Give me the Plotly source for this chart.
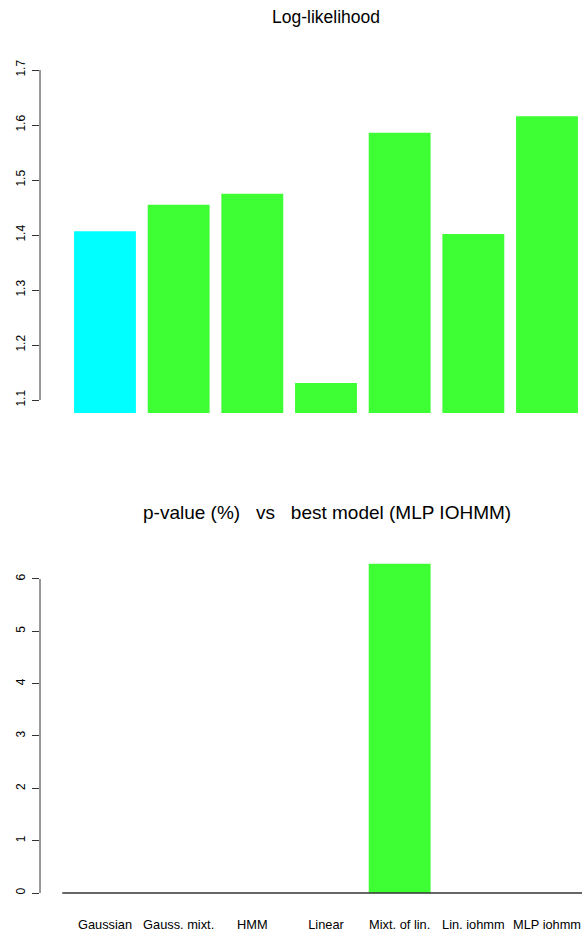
import plotly.graph_objects as go

categories = ["Gaussian", "Gauss. mixt.", "HMM", "Linear", "Mixt. of lin.", "Lin. iohmm", "MLP iohmm"]
loglik = [1.407, 1.455, 1.475, 1.131, 1.586, 1.402, 1.616]
loglik_colors = ["#00FFFF", "#3DFF33", "#3DFF33", "#3DFF33", "#3DFF33", "#3DFF33", "#3DFF33"]
pvalue = [0, 0, 0, 0, 6.29, 0, 0]
pvalue_color = "#3DFF33"
top_ticks = [1.1, 1.2, 1.3, 1.4, 1.5, 1.6, 1.7]
bottom_ticks = [0, 1, 2, 3, 4, 5, 6]
title_top = "Log-likelihood"
title_bottom = "p-value (%)\u00a0\u00a0\u00a0vs\u00a0\u00a0\u00a0best model (MLP IOHMM)"

W, H = 582, 939
FONT = "Liberation Sans, Arial, Helvetica, sans-serif"
xs = list(range(len(categories)))

L = 40  # left edge of plot area (px)

def py(p):
    return 1 - p / H

def px(p):
    return (p - L) / (W - L)

fig = go.Figure()
fig.add_trace(go.Bar(x=xs, y=loglik, marker=dict(color=loglik_colors, line=dict(width=0)),
                     xaxis="x", yaxis="y", showlegend=False))
fig.add_trace(go.Bar(x=xs, y=pvalue, marker=dict(color=pvalue_color, line=dict(width=0)),
                     xaxis="x2", yaxis="y2", showlegend=False))

xr = [-0.882, 6.475]
fig.update_layout(
    width=W, height=H,
    margin=dict(l=L, r=0, t=0, b=0),
    paper_bgcolor="white", plot_bgcolor="white",
    bargap=0.16,
    font=dict(family=FONT, size=12, color="black"),
    xaxis=dict(domain=[0, 1], range=xr, showticklabels=False, showgrid=False,
               zeroline=False, showline=False, ticks="", anchor="y"),
    yaxis=dict(domain=[py(413), py(60)], range=[1.0764, 1.7182], tickvals=top_ticks,
               ticktext=[f"{v:.1f}" for v in top_ticks], ticks="outside", ticklen=7,
               tickcolor="#333", tickwidth=1, tickangle=-90, showgrid=False,
               zeroline=False, showline=False, anchor="x", tickfont=dict(size=12),
               ticklabelstandoff=2),
    xaxis2=dict(domain=[0, 1], range=xr, tickvals=xs, ticktext=categories,
                showgrid=False, zeroline=False, showline=False, ticks="",
                anchor="y2", tickfont=dict(size=12.8), ticklabelstandoff=6),
    yaxis2=dict(domain=[py(908.7), py(552.8)], range=[-0.3, 6.5], tickvals=bottom_ticks,
                ticks="outside", ticklen=7, tickcolor="#333", tickwidth=1, tickangle=-90,
                showgrid=False, zeroline=False, showline=False, anchor="x2",
                tickfont=dict(size=12), ticklabelstandoff=2),
)

# R-style axis lines spanning only the tick range
fig.add_shape(type="line", xref="x domain", yref="y", x0=0, x1=0,
              y0=top_ticks[0], y1=top_ticks[-1], line=dict(color="#333", width=1))
fig.add_shape(type="line", xref="x2 domain", yref="y2", x0=0, x1=0,
              y0=bottom_ticks[0], y1=bottom_ticks[-1], line=dict(color="#333", width=1))
# baseline of the lower bar chart
fig.add_shape(type="line", xref="x2", yref="y2", x0=-0.58, x1=xr[1], y0=0, y1=0,
              line=dict(color="#333", width=1.5))

fig.add_annotation(text=title_top, xref="paper", yref="paper", x=px(326), y=py(17),
                   showarrow=False, font=dict(size=17.5), xanchor="center", yanchor="middle")
fig.add_annotation(text=title_bottom, xref="paper", yref="paper", x=px(326.5), y=py(512),
                   showarrow=False, font=dict(size=19), xanchor="center", yanchor="middle")

fig.write_html(
    "out.html",
    config={"displayModeBar": False},
    post_script=(
        "document.body.style.margin='0';"
        "document.body.style.overflow='hidden';"
        "document.documentElement.style.overflow='hidden';"
    ),
)
